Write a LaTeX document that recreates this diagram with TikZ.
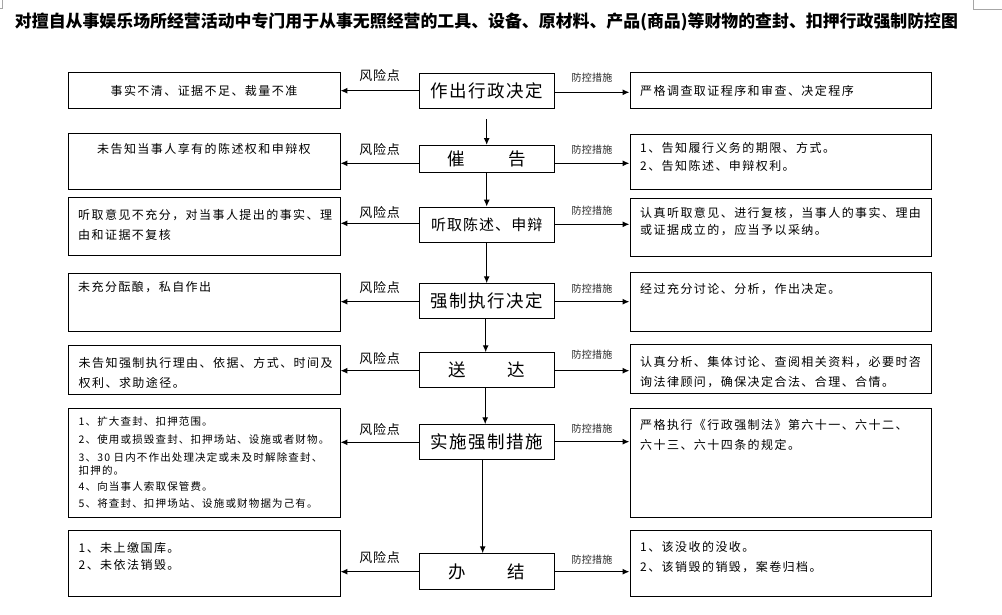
\documentclass[tikz,border=0pt]{standalone}
\usepackage{fontspec}
\setmainfont{Noto Sans CJK SC}
\newfontfamily\bodyf[LetterSpace=12]{Noto Sans CJK SC}
\newfontfamily\smallf[LetterSpace=11]{Noto Sans CJK SC}
\newfontfamily\centf[LetterSpace=8]{Noto Sans CJK SC}
\newfontfamily\centg[LetterSpace=7]{Noto Sans CJK SC}
\newfontfamily\labf[LetterSpace=6]{Noto Sans CJK SC}
\newfontfamily\labg[LetterSpace=3]{Noto Sans CJK SC}
\newfontfamily\plainf{Noto Sans CJK SC}
\usetikzlibrary{arrows.meta}
\begin{document}
\begin{tikzpicture}[x=1pt,y=-1pt,
  box/.style={draw, line width=0.9pt, inner sep=0pt, anchor=north west},
  lbox/.style={box, minimum width=272pt},
  rbox/.style={box, minimum width=301pt},
  stepbox/.style={box, minimum width=134.5pt},
  sidetext/.style={inner sep=0pt, anchor=north west, align=left, font=\bodyf\fontsize{12}{20}\selectfont},
  ctext/.style={inner sep=0pt, font=\centf\fontsize{17.5}{20}\selectfont},
  gtext/.style={inner sep=0pt, font=\plainf\fontsize{17.5}{20}\selectfont},
  arr/.style={line width=1.3pt, -{Latex[length=7pt,width=6pt]}},
  risk/.style={midway, above=#1, inner sep=1pt, font=\labf\fontsize{13}{14}\selectfont},
  ctrl/.style={midway, above=#1, inner sep=1pt, font=\labg\fontsize{10}{11}\selectfont, text=black!85},
  cornermark/.style={draw=black!35, line width=0.8pt}
]
\useasboundingbox (0,0) rectangle (1002,614);
\fill[white] (0,0) rectangle (1002,614);

% page corner marks
\draw[cornermark] (2.5,0) -- (2.5,8.5) -- (0,8.5);
\draw[cornermark] (973.5,0) -- (973.5,9) -- (1002,9);

% title
\node[inner sep=0pt] (title) at (486.5,21.5) {\bfseries\fontsize{16.9}{18}\selectfont 对擅自从事娱乐场所经营活动中专门用于从事无照经营的工具、设备、原材料、产品(商品)等财物的查封、扣押行政强制防控图};

% centre steps
\node[stepbox, minimum height=35pt]   (C1) at (419,73.3) {};
\node[stepbox, minimum height=27.3pt] (C2) at (419,145) {};
\node[stepbox, minimum height=35pt]   (C3) at (419,206.7) {};
\node[stepbox, minimum height=35pt]   (C4) at (419,283.3) {};
\node[stepbox, minimum height=35pt]   (C5) at (419,352.3) {};
\node[stepbox, minimum height=34.7pt] (C6) at (419,424.3) {};
\node[stepbox, minimum height=36pt]   (C7) at (419,553.3) {};

\node[ctext] (C1t) at (C1.center) {作出行政决定};
\node[gtext] (C2t) at (C2.center) {催\hspace{44pt}告};
\node[ctext, font=\centg\fontsize{15}{18}\selectfont] (C3t) at (C3.center) {听取陈述、申辩};
\node[ctext] (C4t) at (C4.center) {强制执行决定};
\node[gtext] (C5t) at (C5.center) {送\hspace{41pt}达};
\node[ctext] (C6t) at (C6.center) {实施强制措施};
\node[gtext] (C7t) at (C7.center) {办\hspace{41pt}结};

% left risk boxes
\node[lbox, minimum height=36pt]    (L1) at (67.5,72.3) {};
\node[lbox, minimum height=56pt]    (L2) at (67.5,133.3) {};
\node[lbox, minimum height=57.7pt]  (L3) at (67.5,197.3) {};
\node[lbox, minimum height=58pt]    (L4) at (67.5,273.3) {};
\node[lbox, minimum height=49pt]    (L5) at (67.5,345) {};
\node[lbox, minimum height=109.6pt] (L6) at (67.5,407.7) {};
\node[lbox, minimum height=65.7pt]  (L7) at (67.5,530) {};

\node[inner sep=0pt, font=\bodyf\fontsize{12}{14}\selectfont] (L1t) at (L1.center) {事实不清、证据不足、裁量不准};
\node[inner sep=0pt, font=\bodyf\fontsize{12}{14}\selectfont] (L2t) at ([shift={(0,16)}]L2.north) {未告知当事人享有的陈述权和申辩权};
\node[sidetext] (L3t) at ([shift={(10.5,11.7)}]L3.north west) {听取意见不充分，对当事人提出的事实、理\\由和证据不复核};
\node[sidetext] (L4t) at ([shift={(10.5,8)}]L4.north west) {未充分酝酿，私自作出};
\node[sidetext] (L5t) at ([shift={(11,11.7)}]L5.north west) {未告知强制执行理由、依据、方式、时间及\\权利、求助途径。};
\node[sidetext, font=\smallf\fontsize{10.5}{17.5}\selectfont] (L6t) at ([shift={(11,8.3)}]L6.north west) {1、扩大查封、扣押范围。\\[1pt]
2、使用或损毁查封、扣押场站、设施或者财物。\\
3、30 日内不作出处理决定或未及时解除查封、\\[-4.5pt]
扣押的。\\[-1pt]
4、向当事人索取保管费。\\[-0.5pt]
5、将查封、扣押场站、设施或财物据为己有。};
\node[sidetext, font=\bodyf\fontsize{12}{16.7}\selectfont] (L7t) at ([shift={(11,12.3)}]L7.north west) {1、未上缴国库。\\2、未依法销毁。};

% right control boxes
\node[rbox, minimum height=36pt]    (R1) at (629.5,72.3) {};
\node[rbox, minimum height=55pt]    (R2) at (629.5,134) {};
\node[rbox, minimum height=57.7pt]  (R3) at (629.5,198.3) {};
\node[rbox, minimum height=59.3pt]  (R4) at (629.5,271.7) {};
\node[rbox, minimum height=49pt]    (R5) at (629.5,344.3) {};
\node[rbox, minimum height=109.6pt] (R6) at (629.5,407.7) {};
\node[rbox, minimum height=65.7pt]  (R7) at (629.5,530) {};

\node[sidetext, anchor=west] (R1t) at ([shift={(10.5,0)}]R1.west) {严格调查取证程序和审查、决定程序};
\node[sidetext, font=\bodyf\fontsize{12}{17.7}\selectfont] (R2t) at ([shift={(10.5,8.3)}]R2.north west) {1、告知履行义务的期限、方式。\\2、告知陈述、申辩权利。};
\node[sidetext, font=\bodyf\fontsize{12}{16.7}\selectfont] (R3t) at ([shift={(10.5,9)}]R3.north west) {认真听取意见、进行复核，当事人的事实、理由\\或证据成立的，应当予以采纳。};
\node[sidetext] (R4t) at ([shift={(10.5,11.3)}]R4.north west) {经过充分讨论、分析，作出决定。};
\node[sidetext] (R5t) at ([shift={(10.5,11.4)}]R5.north west) {认真分析、集体讨论、查阅相关资料，必要时咨\\询法律顾问，确保决定合法、合理、合情。};
\node[sidetext] (R6t) at ([shift={(10.5,11.3)}]R6.north west) {严格执行《行政强制法》第六十一、六十二、\\六十三、六十四条的规定。};
\node[sidetext, font=\bodyf\fontsize{12}{19.4}\selectfont] (R7t) at ([shift={(10.5,11.3)}]R7.north west) {1、该没收的没收。\\2、该销毁的销毁，案卷归档。};

% row levels
\coordinate (a1) at (0,90.7);  \coordinate (b1) at (0,92.3);
\coordinate (a2) at (0,163.3); \coordinate (b2) at (0,163.3);
\coordinate (a3) at (0,223.3); \coordinate (b3) at (0,224.3);
\coordinate (a4) at (0,301.7); \coordinate (b4) at (0,301.7);
\coordinate (a5) at (0,370.7); \coordinate (b5) at (0,370.7);
\coordinate (a6) at (0,442.3); \coordinate (b6) at (0,441.7);
\coordinate (a7) at (0,571.7); \coordinate (b7) at (0,571.7);

% risk arrows (left)
\draw[arr] (C1.west |- a1) -- node[risk=7.2pt] (k1) {风险点} (L1.east |- a1);
\draw[arr] (C2.west |- a2) -- node[risk=5.8pt] (k2) {风险点} (L2.east |- a2);
\draw[arr] (C3.west |- a3) -- node[risk=3.4pt] (k3) {风险点} (L3.east |- a3);
\draw[arr] (C4.west |- a4) -- node[risk=6.6pt] (k4) {风险点} (L4.east |- a4);
\draw[arr] (C5.west |- a5) -- node[risk=4.6pt] (k5) {风险点} (L5.east |- a5);
\draw[arr] (C6.west |- a6) -- node[risk=5.5pt] (k6) {风险点} (L6.east |- a6);
\draw[arr] (C7.west |- a7) -- node[risk=6.6pt] (k7) {风险点} (L7.east |- a7);

% control arrows (right)
\draw[arr] (C1.east |- b1) -- node[ctrl=8.5pt] (m1) {防控措施} (R1.west |- b1);
\draw[arr] (C2.east |- b2) -- node[ctrl=7.1pt] (m2) {防控措施} (R2.west |- b2);
\draw[arr] (C3.east |- b3) -- node[ctrl=7.1pt] (m3) {防控措施} (R3.west |- b3);
\draw[arr] (C4.east |- b4) -- node[ctrl=7.2pt] (m4) {防控措施} (R4.west |- b4);
\draw[arr] (C5.east |- b5) -- node[ctrl=10.2pt] (m5) {防控措施} (R5.west |- b5);
\draw[arr] (C6.east |- b6) -- node[ctrl=6.9pt] (m6) {防控措施} (R6.west |- b6);
\draw[arr] (C7.east |- b7) -- node[ctrl=5.5pt] (m7) {防控措施} (R7.west |- b7);

% flow arrows (vertical)
\draw[arr] ([yshift=-10pt]C1.south) -- (C2.north);
\draw[arr] (C2.south) -- (C3.north);
\draw[arr] (C3.south) -- (C4.north);
\draw[arr] ([xshift=-1pt]C4.south) -- ([xshift=-1pt]C5.north);
\draw[arr] ([xshift=-1.5pt]C5.south) -- ([xshift=-1.5pt]C6.north);
\draw[arr] ([xshift=-4pt]C6.south) -- ([xshift=-4pt]C7.north);
\end{tikzpicture}
\end{document}
